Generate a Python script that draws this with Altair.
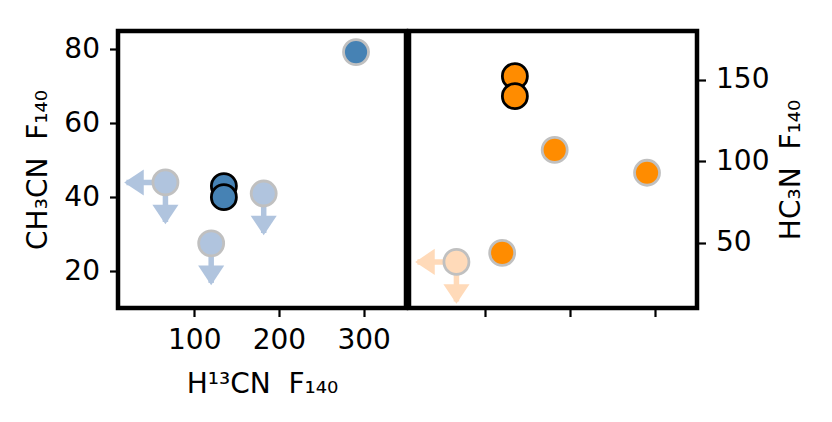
import altair as alt
import pandas as pd

# ---- data ----
sources = ["A", "B", "C1", "C2", "D", "E"]
h13cn = [66, 120, 135, 135, 182, 291]
h13cn_limit = [True, False, False, False, False, False]
ch3cn = [44.0, 27.5, 43.0, 40.0, 41.0, 79.3]
ch3cn_limit = [True, True, False, False, True, False]
hc3n = [38.3, 43.8, 152.3, 140.0, 107.0, 93.0]
hc3n_limit = [True, False, False, False, False, False]
highlighted = [False, False, True, True, False, False]

x_ticks = [100, 200, 300]
ch3cn_ticks = [20, 40, 60, 80]
hc3n_ticks = [50, 100, 150]

X_DOMAIN = [10, 350]
CH3CN_DOMAIN = [10, 85]
HC3N_DOMAIN = [10, 180]

# arrow lengths (data units) for limits
X_ARROW = 46
CH3CN_ARROW = 10.7
HC3N_ARROW = 24.3

FONT = "DejaVu Sans"
W, H = 288, 277
SP = "\u00a0\u00a0"

DOWN = "M-1,-0.75L1,-0.75L0,0.75Z"
LEFT = "M0.75,-1L0.75,1L-0.75,0Z"


def table(yvals, ylims, ylen):
    rows = []
    for s, x, xl, y, yl, hl in zip(sources, h13cn, h13cn_limit, yvals, ylims, highlighted):
        status = "limit" if (xl or yl) else ("highlight" if hl else "detected")
        rows.append(dict(src=s, x=x, y=y, xlim=xl, ylim=yl, status=status,
                         x_tip=x - X_ARROW, y_tip=y - ylen))
    return pd.DataFrame(rows)


def panel(df, ydomain, yticks, ytitle, light, dark, left):
    xs = alt.Scale(domain=X_DOMAIN, nice=False, zero=False)
    ys = alt.Scale(domain=ydomain, nice=False, zero=False)
    xt = "H¹³CN" + SP + "F₁₄₀" if left else None
    if left:
        xaxis = alt.Axis(values=x_ticks, title=xt, titlePadding=16)
        yaxis = alt.Axis(values=yticks, title=ytitle, orient="left", titlePadding=11)
    else:
        xaxis = alt.Axis(values=x_ticks, labels=False, title=None)
        yaxis = alt.Axis(values=yticks, title=ytitle, orient="right",
                         titleAngle=270, titleBaseline="top", titlePadding=9)

    def X(f):
        return alt.X(f, type="quantitative", scale=xs, axis=xaxis, title=xt)

    def Y(f):
        return alt.Y(f, type="quantitative", scale=ys, axis=yaxis, title=ytitle)

    down = df[df.ylim]
    leftl = df[df.xlim]
    layers = []
    if len(down):
        layers.append(alt.Chart(down).mark_rule(strokeWidth=5.5, color=light).encode(
            x=X("x"), y=Y("y"), y2=alt.Y2("y_tip")))
        layers.append(alt.Chart(down).mark_point(shape=DOWN, filled=True, size=680, color=light,
                                                 opacity=1, yOffset=-7.5).encode(x=X("x"), y=Y("y_tip")))
    if len(leftl):
        layers.append(alt.Chart(leftl).mark_rule(strokeWidth=5.5, color=light).encode(
            x=X("x"), x2=alt.X2("x_tip"), y=Y("y")))
        layers.append(alt.Chart(leftl).mark_point(shape=LEFT, filled=True, size=680, color=light,
                                                  opacity=1, xOffset=7.5).encode(x=X("x_tip"), y=Y("y")))
    layers.append(alt.Chart(df).mark_point(shape="circle", filled=True, size=625, strokeWidth=2.8,
                                           opacity=1).encode(
        x=X("x"), y=Y("y"),
        fill=alt.Fill("status:N", scale=alt.Scale(domain=["limit", "detected", "highlight"],
                                                  range=[light, dark, dark]), legend=None),
        stroke=alt.Stroke("status:N", scale=alt.Scale(domain=["limit", "detected", "highlight"],
                                                      range=["#c0c0c0", "#c0c0c0", "black"]), legend=None),
        order=alt.Order("src:N"),
    ))
    return alt.layer(*layers).properties(width=W, height=H)


left = panel(table(ch3cn, ch3cn_limit, CH3CN_ARROW), CH3CN_DOMAIN, ch3cn_ticks, "CH₃CN" + SP + "F₁₄₀",
             "#b0c4de", "#4682b4", True)
right = panel(table(hc3n, hc3n_limit, HC3N_ARROW), HC3N_DOMAIN, hc3n_ticks, "HC₃N" + SP + "F₁₄₀",
              "#ffdab9", "#ff8c00", False)

chart = alt.hconcat(left, right, spacing=-7).resolve_scale(
    y="independent", fill="independent", stroke="independent"
).properties(
    padding={"left": 14, "top": 20, "right": 5, "bottom": 5}, background="white"
).configure_view(
    stroke="black", strokeWidth=4.5
).configure_axis(
    grid=False, domain=False, ticks=True, tickColor="black", tickWidth=2.2, tickSize=8.5,
    labelFont=FONT, titleFont=FONT, labelFontSize=28, titleFontSize=28,
    labelColor="black", titleColor="black", titleFontWeight="normal", labelPadding=10,
)

chart.save("out.html", embed_options={"renderer": "svg", "actions": False})
